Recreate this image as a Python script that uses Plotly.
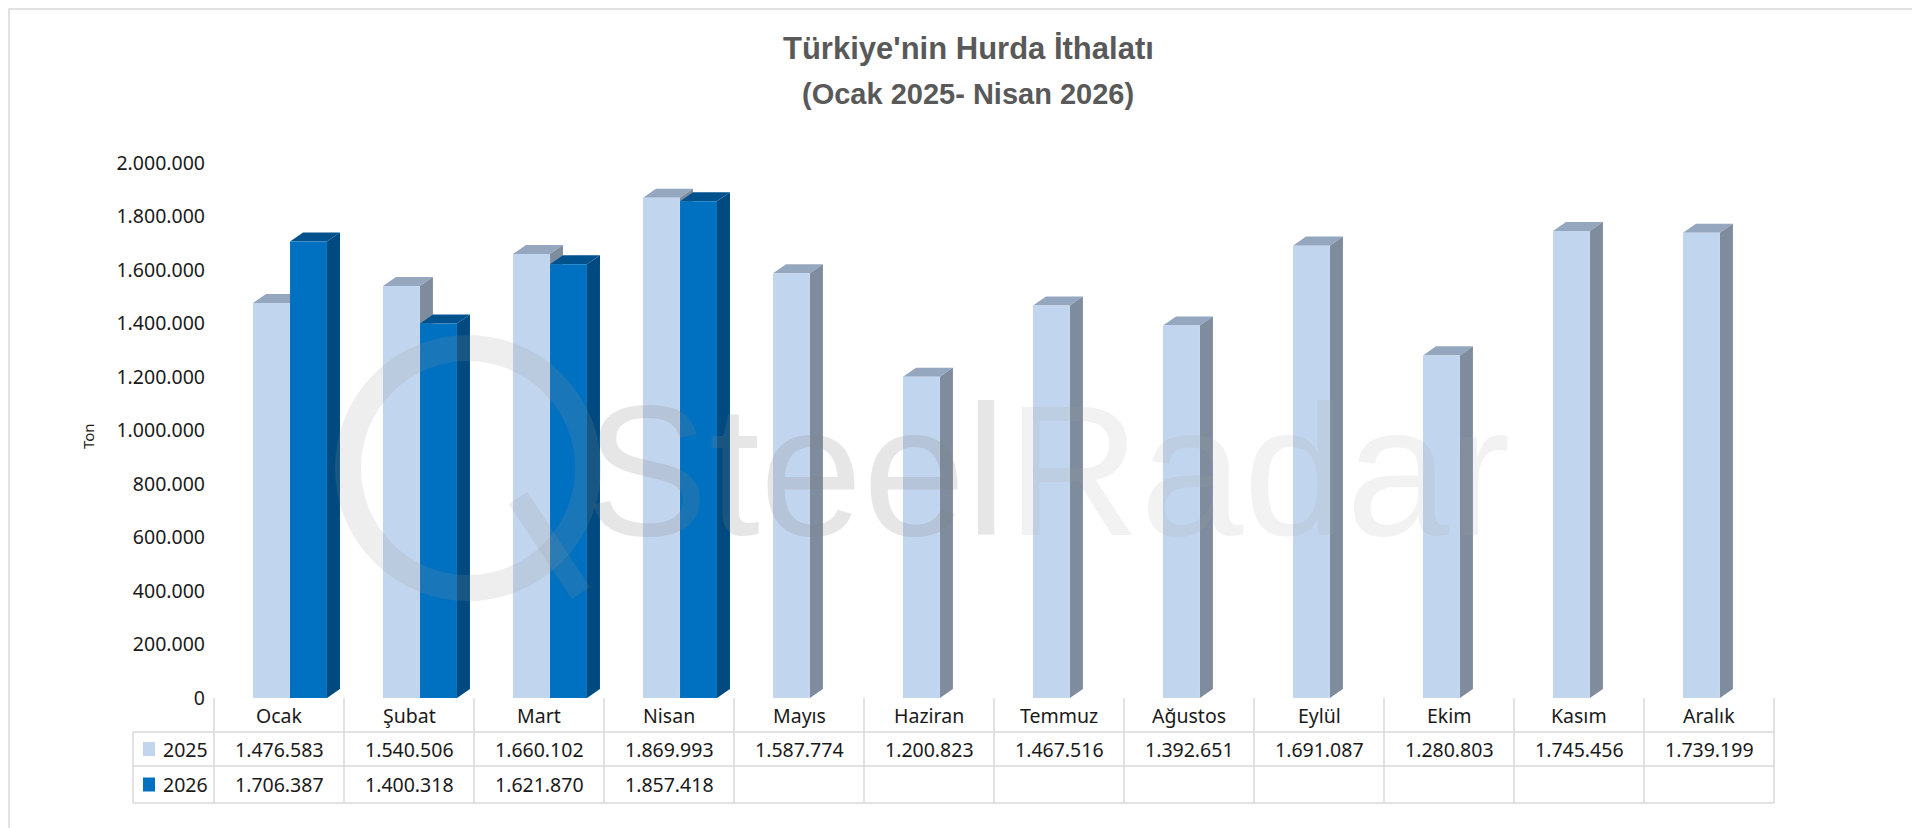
import plotly.graph_objects as go

months = ["Ocak","Şubat","Mart","Nisan","Mayıs","Haziran","Temmuz","Ağustos","Eylül","Ekim","Kasım","Aralık"]
v2025 = [1476583,1540506,1660102,1869993,1587774,1200823,1467516,1392651,1691087,1280803,1745456,1739199]
v2026 = [1706387,1400318,1621870,1857418]
yticks = [0,200000,400000,600000,800000,1000000,1200000,1400000,1600000,1800000,2000000]

def fmt(v):
    return f"{v:,}".replace(",", ".")

W, H = 1920, 828
L, R, T, B = 206, 1766, 155, 690
ncat = len(months)
BW = 0.284
off25, off26 = -0.058, 0.227
DX, DY = 0.1, 33700

fig = go.Figure()
series = [("2025", v2025, off25, "#C2D5EE", "#94A7BF", "#7F8C9E"),
          ("2026", v2026, off26, "#0070C0", "#00528F", "#004A80")]
shapes = []
for name, vals, off, cf, ct, cs in series:
    xs = [i + off for i in range(len(vals))]
    fig.add_trace(go.Bar(x=xs, y=vals, width=BW, marker=dict(color=cf, line=dict(width=0)),
                         name=name, showlegend=False, hovertemplate="%{y}<extra>"+name+"</extra>"))
    for x, v in zip(xs, vals):
        x0, x1 = x - BW/2, x + BW/2
        shapes.append(dict(type="path", layer="below", xref="x", yref="y", line=dict(width=0), fillcolor=ct,
                           path=f"M{x0},{v} L{x1},{v} L{x1+DX},{v+DY} L{x0+DX},{v+DY} Z"))
        shapes.append(dict(type="path", layer="below", xref="x", yref="y", line=dict(width=0), fillcolor=cs,
                           path=f"M{x1},0 L{x1+DX},{DY} L{x1+DX},{v+DY} L{x1},{v} Z"))

def px(x): return (x - L) / (R - L)
def py(y): return (B - y) / (B - T)

grid = "#D9D9D9"
rows = [690, 724, 758, 795]
LC = 125
colw = (R - L) / ncat
for i in range(ncat + 1):
    xx = L + i * colw
    shapes.append(dict(type="line", xref="paper", yref="paper", x0=px(xx), x1=px(xx), y0=py(rows[0]), y1=py(rows[3]),
                       line=dict(color=grid, width=1.5)))
shapes.append(dict(type="line", xref="paper", yref="paper", x0=px(LC), x1=px(LC), y0=py(rows[1]), y1=py(rows[3]),
                   line=dict(color=grid, width=1.5)))
for yy in rows[1:]:
    shapes.append(dict(type="line", xref="paper", yref="paper", x0=px(LC), x1=px(R), y0=py(yy), y1=py(yy),
                       line=dict(color=grid, width=1.5)))
for yy, c in [((rows[1]+rows[2])/2, "#C2D5EE"), ((rows[2]+rows[3])/2, "#0070C0")]:
    shapes.append(dict(type="rect", xref="paper", yref="paper", x0=px(LC+10), x1=px(LC+22), y0=py(yy+7), y1=py(yy-7),
                       fillcolor=c, line=dict(width=0)))
shapes.append(dict(type="rect", xref="paper", yref="paper", x0=px(1), x1=px(W-1), y0=py(H-1), y1=py(1),
                   line=dict(color="#D9D9D9", width=1.5)))
shapes.append(dict(type="circle", xref="paper", yref="paper", x0=px(340), x1=px(580), y0=py(580), y1=py(340),
                   line=dict(color="rgba(150,150,150,0.16)", width=26)))
shapes.append(dict(type="line", xref="paper", yref="paper", x0=px(510), x1=px(573), y0=py(490), y1=py(585),
                   line=dict(color="rgba(150,150,150,0.16)", width=22)))

tf = "Noto Sans, Liberation Sans"
ann = []
for i, m in enumerate(months):
    cx = px(L + (i + 0.5) * colw)
    ann.append(dict(x=cx, y=py((rows[0]+rows[1])/2), text=m))
    ann.append(dict(x=cx, y=py((rows[1]+rows[2])/2), text=fmt(v2025[i])))
    if i < len(v2026):
        ann.append(dict(x=cx, y=py((rows[2]+rows[3])/2), text=fmt(v2026[i])))
ann.append(dict(x=px(LC+52), y=py((rows[1]+rows[2])/2), text="2025"))
ann.append(dict(x=px(LC+52), y=py((rows[2]+rows[3])/2), text="2026"))
for a in ann:
    a.update(xref="paper", yref="paper", showarrow=False, xanchor="center", yanchor="middle",
             font=dict(size=19.5, color="#1a1a1a", family=tf))
ann.append(dict(xref="paper", yref="paper", x=px(W/2), y=py(40), showarrow=False, xanchor="center", yanchor="middle",
                text="<b>Türkiye'nin Hurda İthalatı</b>", font=dict(size=31, color="#595959", family="Liberation Sans")))
ann.append(dict(xref="paper", yref="paper", x=px(W/2), y=py(86), showarrow=False, xanchor="center", yanchor="middle",
                text="<b>(Ocak 2025- Nisan 2026)</b>", font=dict(size=29, color="#595959", family="Liberation Sans")))
ann.append(dict(xref="paper", yref="paper", x=px(80), y=py(428), showarrow=False, textangle=-90, xanchor="center", yanchor="middle",
                text="Ton", font=dict(size=15, color="#1a1a1a", family=tf)))
ann.append(dict(xref="paper", yref="paper", x=px(1040), y=py(463), showarrow=False, xanchor="center", yanchor="middle",
                text="<span style='color:rgba(130,130,130,0.2)'>Steel</span><span style='color:rgba(160,160,160,0.14)'>Radar</span>",
                font=dict(size=185, family="Liberation Sans")))

fig.update_layout(
    width=W, height=H, margin=dict(l=L, r=W-R, t=T, b=H-B),
    paper_bgcolor="white", plot_bgcolor="white",
    barmode="overlay", shapes=shapes, annotations=ann,
    xaxis=dict(range=[-0.5, ncat-0.5], showticklabels=False, showgrid=False, zeroline=False, fixedrange=True),
    yaxis=dict(range=[0, 2000000], tickvals=yticks, ticktext=[fmt(v) for v in yticks], showgrid=False,
               zeroline=False, ticks="", tickfont=dict(size=19.5, color="#1a1a1a", family=tf),
               ticklabelstandoff=8),
)
fig.write_html("out.html")
